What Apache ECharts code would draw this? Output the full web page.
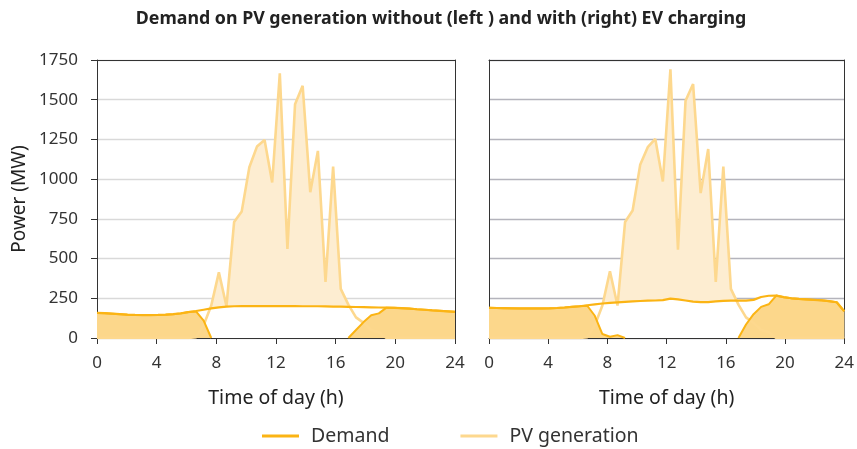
<!DOCTYPE html>
<html>
<head>
<meta charset="utf-8">
<script src="https://cdn.jsdelivr.net/npm/echarts@6/dist/echarts.min.js"></script>
<style>
html,body{margin:0;padding:0;background:#fff;}
#chart{width:857px;height:449px;}
</style>
</head>
<body>
<div id="chart"></div>
<script>
// 48 half-hourly samples spread over the 0–24 h axis
const xTicks = [0, 4, 8, 12, 16, 20, 24];
const yTicks = [0, 250, 500, 750, 1000, 1250, 1500, 1750];

// Left panel: without EV charging
const demandLeft = [158,156,153,150,147,145,144,144,145,147,150,155,163,170,178,186,193,198,200,201,201,201,201,201,201,201,201,200,200,200,199,198,197,196,195,194,193,192,191,190,188,185,181,178,174,171,168,165];
const pvLeft = [0,0,0,0,0,0,0,0,0,0,0,0,0,5,80,205,413,200,730,797,1075,1205,1247,979,1666,560,1471,1588,918,1178,353,1079,309,210,130,95,50,37,0,0,0,0,0,0,0,0,0,0];
const netLeft = [158,156,153,150,147,145,144,144,145,147,150,155,163,167,110,0,null,null,null,null,null,null,null,null,null,null,null,null,null,null,null,null,null,0,50,100,143,155,191,190,188,185,181,178,174,171,168,165];

// Right panel: with EV charging
const demandRight = [190,189,188,187,186,186,186,186,187,189,192,196,200,206,212,217,221,224,227,230,233,235,236,238,248,243,236,229,226,226,230,234,235,235,235,240,258,266,267,257,250,246,243,240,237,232,225,168];
const pvRight = [0,0,0,0,0,0,0,0,0,0,0,0,0,5,80,205,420,204,730,803,1090,1201,1253,985,1691,556,1494,1599,912,1190,353,1079,309,210,130,95,50,37,0,0,0,0,0,0,0,0,0,0];
const netRight = [190,189,188,187,186,186,186,186,187,189,192,196,200,203,140,25,8,18,0,null,null,null,null,null,null,null,null,null,null,null,null,null,null,0,85,150,196,212,267,257,250,246,243,240,237,232,225,168];

const C_DEMAND = '#fbb414';
const C_PV = '#fdd88e';
const C_PVFILL = '#fdedd1';
const C_NET = '#fcd78b';
const FONT = 'Noto Sans';

function pts(arr) {
  const n = arr.length;
  return arr.map((v, i) => [i * 24 / (n - 1), v]);
}

function panelSeries(g, demand, pv, net) {
  const base = {type: 'line', xAxisIndex: g, yAxisIndex: g, symbol: 'none', showSymbol: false, animation: false, silent: true};
  return [
    Object.assign({}, base, {name: 'pvfill' + g, data: pts(pv), lineStyle: {width: 0}, areaStyle: {color: C_PVFILL, opacity: 1}, itemStyle: {color: C_PVFILL}}),
    Object.assign({}, base, {name: 'mask' + g, data: pts(demand), lineStyle: {width: 0}, areaStyle: {color: '#ffffff', opacity: 1}, itemStyle: {color: '#ffffff'}}),
    Object.assign({}, base, {name: 'PV generation', data: pts(pv), lineStyle: {width: 2.6, color: C_PV}, itemStyle: {color: C_PV}}),
    Object.assign({}, base, {name: 'net' + g, data: pts(net), connectNulls: false, lineStyle: {width: 2, color: C_DEMAND}, areaStyle: {color: C_NET, opacity: 1}, itemStyle: {color: C_DEMAND}}),
    Object.assign({}, base, {name: 'Demand', data: pts(demand), lineStyle: {width: 2.2, color: C_DEMAND}, itemStyle: {color: C_DEMAND}})
  ];
}

function xAxis(g) {
  return {
    type: 'value', gridIndex: g, position: 'bottom', z: 1,
    min: xTicks[0], max: xTicks[xTicks.length - 1], interval: xTicks[1] - xTicks[0],
    axisLine: {show: true, onZero: false, lineStyle: {color: '#333', width: 1}},
    axisTick: {show: true, length: 6, lineStyle: {color: '#333'}},
    axisLabel: {fontSize: 17, color: '#333', margin: 17, fontFamily: FONT},
    splitLine: {show: false},
    name: 'Time of day (h)', nameLocation: 'middle', nameGap: 50,
    nameTextStyle: {fontSize: 19.5, color: '#222', fontFamily: FONT}
  };
}
function xAxisTop(g) {
  return {
    type: 'value', gridIndex: g, position: 'top', z: 1,
    min: xTicks[0], max: xTicks[xTicks.length - 1],
    axisLine: {show: true, onZero: false, lineStyle: {color: '#333', width: 1}},
    axisTick: {show: false}, axisLabel: {show: false}, splitLine: {show: false}
  };
}

function yAxis(g) {
  const a = {
    type: 'value', gridIndex: g, position: 'left',
    min: yTicks[0], max: yTicks[yTicks.length - 1], interval: yTicks[1] - yTicks[0],
    axisLine: {show: true, onZero: false, lineStyle: {color: '#333', width: 1}},
    axisTick: {show: g === 0, length: 6, lineStyle: {color: '#333'}},
    axisLabel: {show: g === 0, fontSize: 17, color: '#333', margin: 19, fontFamily: FONT, formatter: v => String(v)},
    splitLine: {show: true, lineStyle: {color: g === 0 ? '#d9d9d9' : '#b4b4bc', width: 1.4}}
  };
  if (g === 0) {
    a.name = 'Power (MW)';
    a.nameLocation = 'middle';
    a.nameGap = 68;
    a.nameTextStyle = {fontSize: 19, color: '#222', fontFamily: FONT};
  }
  return a;
}
function yAxisRight(g) {
  return {
    type: 'value', gridIndex: g, position: 'right', z: 1,
    min: yTicks[0], max: yTicks[yTicks.length - 1],
    axisLine: {show: true, onZero: false, lineStyle: {color: '#333', width: 1}},
    axisTick: {show: false}, axisLabel: {show: false}, splitLine: {show: false}
  };
}

const chart = echarts.init(document.getElementById('chart'), null, {renderer: 'canvas'});
chart.setOption({
  animation: false,
  backgroundColor: '#fff',
  textStyle: {fontFamily: FONT},
  title: {
    text: 'Demand on PV generation without (left ) and with (right) EV charging',
    left: 436, top: 5, textAlign: 'center',
    textStyle: {fontSize: 17.8, fontWeight: 'bold', color: '#222', fontFamily: FONT}
  },
  legend: {
    data: ['Demand', 'PV generation'],
    left: 262, top: 426, padding: 0,
    icon: 'rect', itemWidth: 37, itemHeight: 3, itemGap: 71,
    textStyle: {fontSize: 19.5, color: '#333', fontFamily: FONT, padding: [0, 0, 0, 7]}
  },
  grid: [
    {left: 97, top: 60, width: 358, height: 278},
    {left: 489, top: 60, width: 358, height: 278}
  ],
  xAxis: [xAxis(0), xAxis(1), xAxisTop(0), xAxisTop(1)],
  yAxis: [yAxis(0), yAxis(1), yAxisRight(0), yAxisRight(1)],
  series: panelSeries(0, demandLeft, pvLeft, netLeft).concat(panelSeries(1, demandRight, pvRight, netRight))
});
</script>
</body>
</html>
